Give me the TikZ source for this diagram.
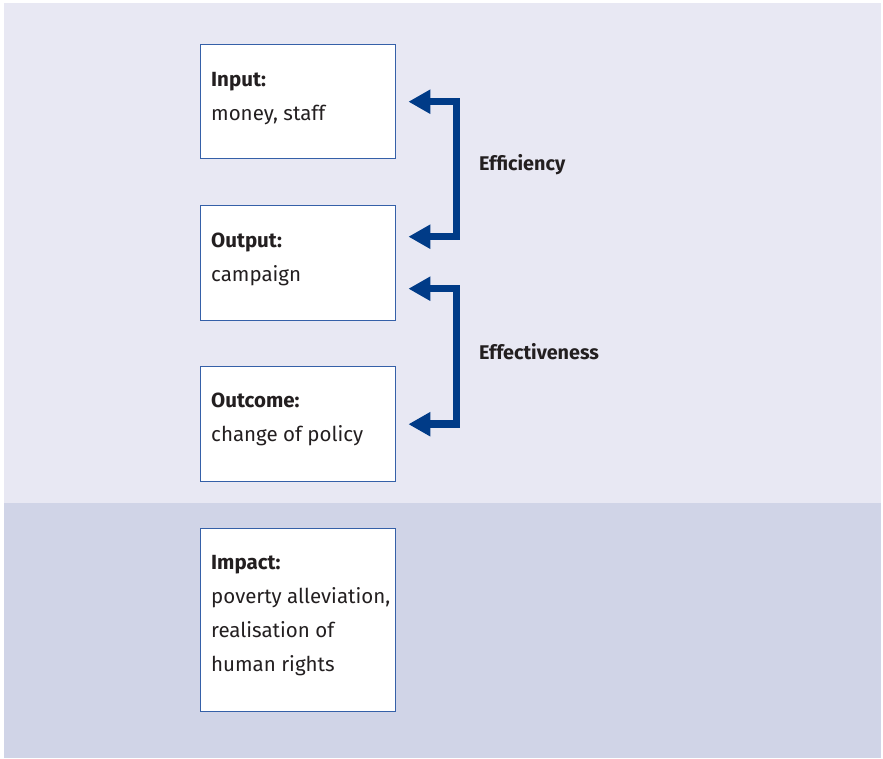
\documentclass[tikz,border=0pt]{standalone}
\usepackage{fontspec}
\setmainfont{Fira Sans}
\usetikzlibrary{arrows.meta}
\definecolor{bgtop}{HTML}{E8E8F3}
\definecolor{bgbot}{HTML}{D0D4E7}
\definecolor{boxline}{HTML}{3560A8}
\definecolor{arrowblue}{HTML}{003B87}
\definecolor{txt}{HTML}{231F20}
\tikzset{
  stagebox/.style={draw=boxline, line width=1.4pt, fill=white, rectangle, inner sep=0pt,
    minimum width=195pt, anchor=north west},
  stagetext/.style={anchor=north west, inner sep=0pt, align=left, text=txt,
    font=\fontsize{20.5pt}{34pt}\selectfont},
  bracket/.style={draw=arrowblue, line width=7.5pt, miter limit=10, line join=miter,
    {Triangle[length=22pt,width=23pt]}-{Triangle[length=22pt,width=23pt]}},
  measure/.style={anchor=base west, inner sep=0pt, text=txt,
    font=\fontsize{19.8pt}{24pt}\selectfont\bfseries}
}
\begin{document}
\begin{tikzpicture}[x=1pt,y=-1pt]
  \useasboundingbox (0,0) rectangle (883,758);
  \fill[white] (0,0) rectangle (883,758);
  \fill[bgtop] (4,3) rectangle (881,503);
  \fill[bgbot] (4,503) rectangle (881,758);

  \node[stagebox, minimum height=114pt] (input) at (200,44) {};
  \node[stagebox, minimum height=115pt] (output) at (200,205) {};
  \node[stagebox, minimum height=115pt] (outcome) at (200,366) {};
  \node[stagebox, minimum height=183pt] (impact) at (200,528) {};

  \node[stagetext] (inputtxt) at (211,72) {\textbf{Input:}\\money, staff};
  \node[stagetext] (outputtxt) at (211,233) {\textbf{Output:}\\campaign};
  \node[stagetext] (outcometxt) at (211,393) {\textbf{Outcome:}\\change of policy};
  \node[stagetext] (impacttxt) at (211,555) {\textbf{Impact:}\\poverty alleviation,\\realisation of\\human rights};

  \draw[bracket] ([xshift=12pt]input.east) -- ++(48,0) |- ([xshift=12pt,yshift=26.5pt]output.east);
  \draw[bracket] ([xshift=12pt,yshift=-25.5pt]output.east) -- ++(48,0) |- ([xshift=12pt]outcome.east);

  \node[measure] (effic) at (479,170) {Efficiency};
  \node[measure] (effect) at (479,359) {Effectiveness};
\end{tikzpicture}
\end{document}
